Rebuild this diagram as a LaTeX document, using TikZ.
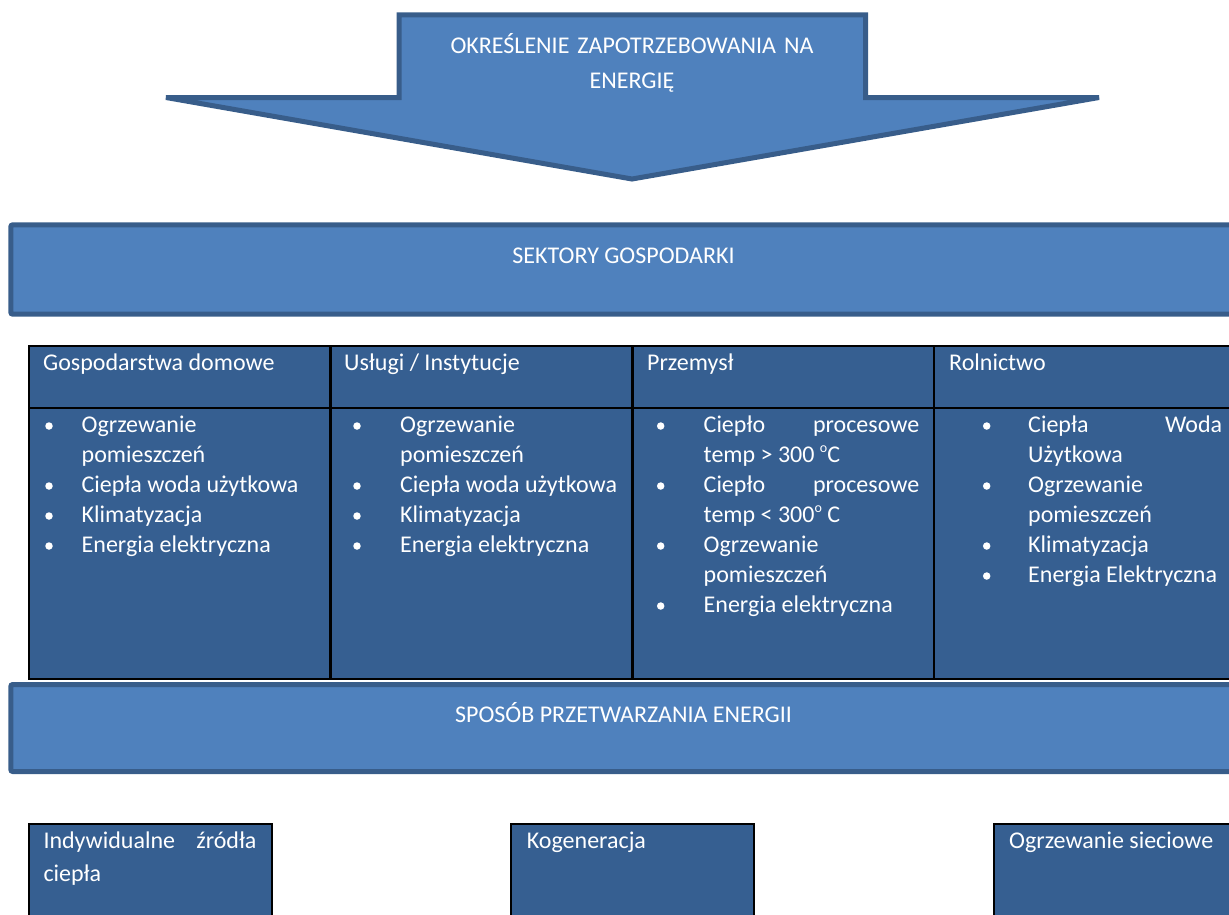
\documentclass[tikz,border=0pt]{standalone}
\usepackage{fontspec}
\setmainfont{Carlito}
\definecolor{boxblue}{HTML}{4F81BD}
\definecolor{edgeblue}{HTML}{385D8A}
\definecolor{cellblue}{HTML}{365F91}
\hyphenpenalty=10000
\tolerance=9999
\hbadness=10000
\newcommand{\supo}{\raisebox{10pt}{\fontsize{14}{14}\selectfont o}}

\begin{document}
\begin{tikzpicture}[x=1pt,y=-1pt,
  bigbox/.style={fill=boxblue,draw=edgeblue,line width=5,rounded corners=2},
  cell/.style={fill=cellblue,draw=black,line width=2.5},
  txt/.style={text=white,font=\fontsize{24}{30}\selectfont,inner sep=0},
  entry/.style={txt,anchor=base west,align=justify,text width=#1},
  bulletdot/.style={circle,fill=white,inner sep=0,minimum size=7.5}]
  \useasboundingbox (0,0) rectangle (1229,914);
  \clip (0,0) rectangle (1229,914);

  % arrow
  \draw[fill=boxblue,draw=edgeblue,line width=5,miter limit=2] (166,97.5) -- (399,97.5) -- (399,14.8)
    -- (865.5,14.8) -- (865.5,97.5) -- (1099,97.5) -- (632,179) -- cycle;
  \node[txt,anchor=base,align=center,text width=420,font=\fontsize{24}{35}\selectfont] (need) at (632,53)
    {OKREŚLENIE ZAPOTRZEBOWANIA NA\\ENERGIĘ};

  % sectors
  \path[bigbox] (10.8,224.8) rectangle (1260,314.2);
  \node[txt,anchor=base] (sektory) at (623.5,263.5) {SEKTORY GOSPODARKI};

  % table
  \path[cell] (29,346) rectangle (330.5,408);
  \path[cell] (330.5,346) rectangle (632.5,408);
  \path[cell] (632.5,346) rectangle (934,408);
  \path[cell] (934,346) rectangle (1236,408);
  \path[cell] (29,408) rectangle (330.5,679);
  \path[cell] (330.5,408) rectangle (632.5,679);
  \path[cell] (632.5,408) rectangle (934,679);
  \path[cell] (934,408) rectangle (1236,679);

  \node[entry=280] (dom) at (43,370) {Gospodarstwa domowe};
  \node[entry=280] (usl) at (344,370) {Usługi / Instytucje};
  \node[entry=280] (prz) at (647,370) {Przemysł};
  \node[entry=270] (rol) at (949,370) {Rolnictwo};

  % households
  \node[bulletdot] (b11) at (49,426) {};
  \node[entry=232] (t11) at (81.5,432.5) {Ogrzewanie pomieszczeń};
  \node[bulletdot] (b12) at (49,486) {};
  \node[entry=232] (t12) at (81.5,492.5) {Ciepła woda użytkowa};
  \node[bulletdot] (b13) at (49,516) {};
  \node[entry=232] (t13) at (81.5,522.5) {Klimatyzacja};
  \node[bulletdot] (b14) at (49,546) {};
  \node[entry=232] (t14) at (81.5,552.5) {Energia elektryczna};

  % services
  \node[bulletdot] (b21) at (357,426) {};
  \node[entry=225] (t21) at (400,432.5) {Ogrzewanie pomieszczeń};
  \node[bulletdot] (b22) at (357,486) {};
  \node[entry=225] (t22) at (400,492.5) {Ciepła woda użytkowa};
  \node[bulletdot] (b23) at (357,516) {};
  \node[entry=225] (t23) at (400,522.5) {Klimatyzacja};
  \node[bulletdot] (b24) at (357,546) {};
  \node[entry=225] (t24) at (400,552.5) {Energia elektryczna};

  % industry
  \node[bulletdot] (b31) at (660.7,426) {};
  \node[entry=215.5] (t31) at (703.5,432.5) {Ciepło procesowe temp > 300 \supo C};
  \node[bulletdot] (b32) at (660.7,486) {};
  \node[entry=215.5] (t32) at (703.5,492.5) {Ciepło procesowe temp < 300\supo{} C};
  \node[bulletdot] (b33) at (660.7,546) {};
  \node[entry=215.5] (t33) at (703.5,552.5) {Ogrzewanie pomieszczeń};
  \node[bulletdot] (b34) at (660.7,606) {};
  \node[entry=215.5] (t34) at (703.5,612.5) {Energia elektryczna};

  % agriculture
  \node[bulletdot] (b41) at (986.7,426) {};
  \node[entry=194] (t41) at (1028,432.5) {Ciepła Woda Użytkowa};
  \node[bulletdot] (b42) at (986.7,486) {};
  \node[entry=194] (t42) at (1028,492.5) {Ogrzewanie pomieszczeń};
  \node[bulletdot] (b43) at (986.7,546) {};
  \node[entry=194] (t43) at (1028,552.5) {Klimatyzacja};
  \node[bulletdot] (b44) at (986.7,576) {};
  \node[entry=194] (t44) at (1028,582.5) {Energia Elektryczna};

  % conversion
  \path[bigbox] (10.8,684.5) rectangle (1260,771.5);
  \node[txt,anchor=base] (sposob) at (623.5,722.5) {SPOSÓB PRZETWARZANIA ENERGII};

  % sources
  \path[cell] (29,824) rectangle (272,930);
  \path[cell] (511,824) rectangle (754,930);
  \path[cell] (994,824) rectangle (1237,930);
  \node[entry=213,font=\fontsize{24}{33.7}\selectfont] (indyw) at (43.3,848) {Indywidualne źródła ciepła};
  \node[entry=213] (kogen) at (526.7,848) {Kogeneracja};
  \node[entry=213] (siec) at (1009,848) {Ogrzewanie sieciowe};
\end{tikzpicture}
\end{document}
